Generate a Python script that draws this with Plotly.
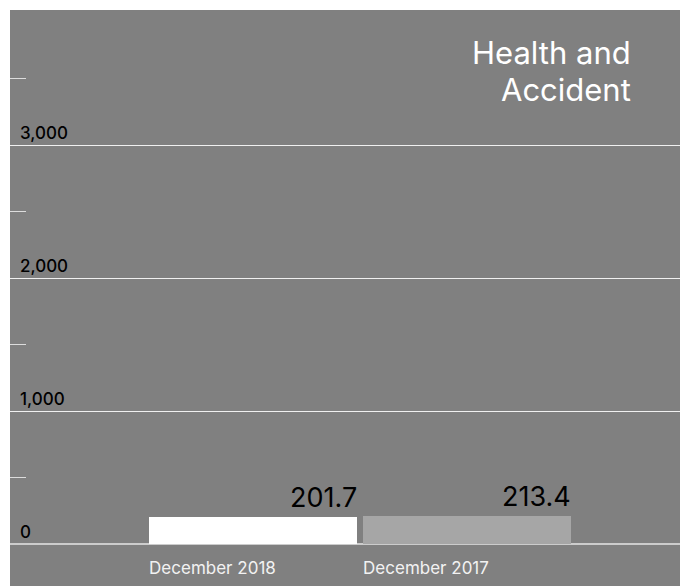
import plotly.graph_objects as go

# Health and Accident totals
periods = ["December 2018", "December 2017"]
values = [201.7, 213.4]
bar_colors = ["#ffffff", "#a6a6a6"]
value_text = ["201.7", "213.4"]

FONT = "Inter"
BG = "#808080"

x_pos = list(range(len(periods)))
bar_width = 0.972

fig = go.Figure()
fig.add_trace(go.Bar(
    x=x_pos,
    y=values,
    width=bar_width,
    marker=dict(color=bar_colors, line=dict(width=0)),
    hoverinfo="skip",
))

# value labels, right-aligned to each bar's right edge
for xp, v, t in zip(x_pos, values, value_text):
    fig.add_annotation(
        x=xp + bar_width / 2, y=v, xref="x", yref="y",
        text=t, showarrow=False, xanchor="right", yanchor="bottom",
        yshift=1, xshift=2, font=dict(family=FONT, size=27, color="#000000"),
    )

# title block, one line per annotation
for line, ypos in (("Health and", 0.921), ("Accident", 0.851)):
    fig.add_annotation(
        x=0.93, y=ypos, xref="paper", yref="paper",
        text=line, showarrow=False,
        xanchor="right", yanchor="middle", align="right",
        font=dict(family=FONT, size=31, color="#ffffff"),
    )

# gray panel extending under the category labels
fig.add_shape(
    type="rect", xref="paper", yref="paper",
    x0=0, x1=1, y0=-0.2, y1=1,
    fillcolor=BG, line=dict(width=0), layer="below",
)

fig.update_layout(
    width=680, height=586,
    margin=dict(l=10, r=0, t=10, b=42),
    paper_bgcolor="#ffffff",
    plot_bgcolor=BG,
    showlegend=False,
    bargap=0,
    xaxis=dict(
        range=[-1.136, 1.995],
        tickvals=[xp - bar_width / 2 for xp in x_pos],
        ticktext=periods,
        ticklabelposition="outside right",
        ticklabelstandoff=12,
        showgrid=False, zeroline=False, showline=False,
        ticks="", tickfont=dict(family=FONT, size=17, color="#f2f2f2"),
    ),
    yaxis=dict(
        range=[0, 4015],
        tickvals=[0, 1000, 2000, 3000],
        ticktext=["0", "1,000", "2,000", "3,000"],
        ticklabelposition="inside top",
        ticklabelstandoff=7,
        showgrid=True, gridcolor="#f0f0f0", gridwidth=1,
        zeroline=True, zerolinecolor="#cccccc", zerolinewidth=2,
        showline=False, ticks="",
        tickfont=dict(family=FONT, size=17, color="#000000", weight=500),
        minor=dict(tickvals=[500, 1500, 2500, 3500], ticks="inside",
                   ticklen=16, tickcolor="#dddddd", tickwidth=1,
                   showgrid=False),
    ),
)

fig.write_html("out.html")
